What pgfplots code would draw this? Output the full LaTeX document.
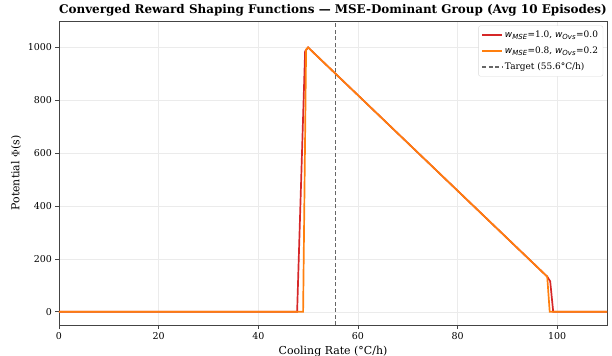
\documentclass[border=0pt]{standalone}
\usepackage{pgfplots}
\pgfplotsset{compat=1.18}
\usepackage{fontspec}
\setmainfont{DejaVu Serif}
\setsansfont{DejaVu Sans}
\definecolor{cred}{HTML}{D62728}
\definecolor{corange}{HTML}{FF7F0E}
\definecolor{axgray}{HTML}{444444}
\newcommand{\wsub}[1]{{\sffamily\itshape w}\textsubscript{\sffamily\itshape\scriptsize #1}}
\begin{document}
\begin{tikzpicture}
\begin{axis}[
  scale only axis,
  width=548bp, height=304bp,
  xmin=0, xmax=110, ymin=-50, ymax=1100,
  xtick={0,20,40,60,80,100}, ytick={0,200,400,600,800,1000},
  grid=major,
  grid style={draw=black!8, line width=0.5pt},
  axis line style={draw=axgray, line width=0.8pt},
  tick style={draw=axgray, line width=0.8pt},
  tick align=outside, tick pos=left,
  major tick length=3.5bp,
  tick label style={font=\fontsize{9.5}{10}\selectfont},
  /pgf/number format/assume math mode=true,
  /pgf/number format/1000 sep={},
  xlabel={Cooling Rate (°C/h)},
  ylabel={Potential $\Phi$(s)},
  label style={font=\fontsize{11}{12}\selectfont},
  title={\textbf{Converged Reward Shaping Functions — MSE-Dominant Group (Avg 10 Episodes)}},
  title style={font=\fontsize{12}{13}\selectfont, yshift=-5bp},
  legend pos=north east,
  legend cell align=left,
  legend image post style={line width=1.6pt},
  legend style={font=\fontsize{9}{10}\selectfont, draw=black!15, rounded corners=2pt, inner sep=3pt, row sep=4pt,
    at={(0.993,0.985)}, anchor=north east,
    /tikz/every even column/.append style={column sep=2pt}},
  legend image code/.code={\draw[#1] (0cm,0cm) -- (0.7cm,0cm);},
]
\addplot[cred, line width=1.7pt] coordinates {
(0,0) (47.8,0) (49.4,985) (50,1000) (98,133) (98.6,115) (99.2,0) (110,0)};
\addlegendentry{\wsub{MSE}=1.0, \wsub{Ovs}=0.0}
\addplot[corange, line width=1.7pt] coordinates {
(0,0) (49.0,0) (49.6,992) (50,1000) (98,133) (98.5,0) (110,0)};
\addlegendentry{\wsub{MSE}=0.8, \wsub{Ovs}=0.2}
\addplot[black!60, dash pattern=on 4pt off 2.5pt, line width=1pt] coordinates {(55.6,-50) (55.6,1100)};
\addlegendentry{Target (55.6°C/h)}
\end{axis}
\pgfresetboundingbox
\path[use as bounding box] ([shift={(-59bp,-31bp)}]current axis.south west) rectangle ([shift={(5bp,21bp)}]current axis.north east);
\end{tikzpicture}
\end{document}
